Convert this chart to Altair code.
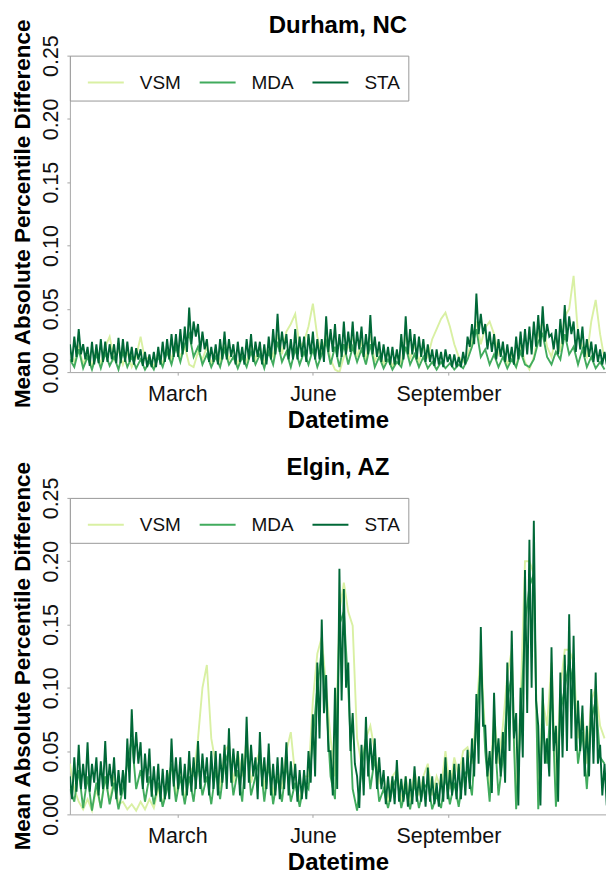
import altair as alt
import pandas as pd

# ---- data ----
# VSM / MDA: one sample every 3 days; STA: one sample every 1.5 days
series_names = ["VSM", "MDA", "STA"]
series_colors = ["#d9f0a3", "#41ab5d", "#006837"]
series_step_hours = [72, 72, 36]
panel_titles = ["Durham, NC", "Elgin, AZ"]
tick_dates = ["2019-03-15", "2019-06-15", "2019-09-15"]
tick_labels = ["March", "June", "September"]
y_ticks = [0.0, 0.05, 0.10, 0.15, 0.20, 0.25]

durham_vsm = [
    0.015, 0.008, 0.020, 0.006, 0.016, 0.004, 0.018, 0.006, 0.020, 0.028,
    0.010, 0.018, 0.006, 0.016, 0.004, 0.012, 0.028, 0.010, 0.012, 0.004,
    0.016, 0.006, 0.020, 0.010, 0.024, 0.012, 0.020, 0.006, 0.004, 0.016,
    0.010, 0.020, 0.006, 0.018, 0.008, 0.024, 0.010, 0.018, 0.006, 0.016,
    0.008, 0.022, 0.010, 0.020, 0.006, 0.022, 0.012, 0.030, 0.014, 0.032,
    0.038, 0.046, 0.020, 0.024, 0.036, 0.054, 0.028, 0.014, 0.030, 0.010,
    0.002, 0.000, 0.012, 0.020, 0.028, 0.012, 0.024, 0.010, 0.030, 0.008,
    0.018, 0.006, 0.016, 0.004, 0.014, 0.006, 0.030, 0.010, 0.022, 0.008,
    0.020, 0.012, 0.026, 0.034, 0.042, 0.047, 0.036, 0.022, 0.012, 0.008,
    0.014, 0.024, 0.040, 0.022, 0.035, 0.040, 0.030, 0.014, 0.020, 0.006,
    0.014, 0.004, 0.022, 0.008, 0.002, 0.012, 0.030, 0.040, 0.020, 0.012,
    0.028, 0.016, 0.044, 0.050, 0.076, 0.030, 0.020, 0.012, 0.040, 0.057,
    0.030, 0.010,
]
durham_mda = [
    0.010, 0.004, 0.018, 0.003, 0.012, 0.002, 0.014, 0.003, 0.015, 0.005,
    0.012, 0.002, 0.016, 0.004, 0.012, 0.003, 0.010, 0.002, 0.008, 0.002,
    0.012, 0.004, 0.016, 0.006, 0.020, 0.008, 0.022, 0.030, 0.012, 0.020,
    0.006, 0.014, 0.004, 0.012, 0.004, 0.018, 0.006, 0.012, 0.003, 0.012,
    0.004, 0.016, 0.006, 0.014, 0.003, 0.016, 0.006, 0.024, 0.008, 0.016,
    0.004, 0.018, 0.006, 0.016, 0.006, 0.018, 0.004, 0.014, 0.024, 0.006,
    0.020, 0.004, 0.022, 0.006, 0.020, 0.008, 0.018, 0.006, 0.022, 0.004,
    0.012, 0.003, 0.010, 0.002, 0.008, 0.004, 0.020, 0.006, 0.014, 0.004,
    0.012, 0.003, 0.008, 0.002, 0.008, 0.003, 0.007, 0.002, 0.006, 0.003,
    0.010, 0.020, 0.034, 0.012, 0.018, 0.006, 0.014, 0.004, 0.012, 0.003,
    0.010, 0.004, 0.016, 0.006, 0.004, 0.010, 0.024, 0.030, 0.012, 0.006,
    0.016, 0.010, 0.030, 0.014, 0.020, 0.006, 0.018, 0.004, 0.012, 0.003,
    0.008, 0.002,
]
durham_sta = [
    0.022, 0.008, 0.028, 0.012, 0.034, 0.014, 0.022, 0.010, 0.020, 0.005,
    0.024, 0.006, 0.022, 0.007, 0.026, 0.008, 0.024, 0.008, 0.022, 0.010,
    0.022, 0.007, 0.027, 0.007, 0.026, 0.008, 0.024, 0.008, 0.020, 0.006,
    0.019, 0.010, 0.018, 0.005, 0.016, 0.004, 0.014, 0.004, 0.016, 0.004,
    0.020, 0.006, 0.024, 0.008, 0.026, 0.010, 0.030, 0.012, 0.030, 0.012,
    0.034, 0.014, 0.036, 0.016, 0.051, 0.022, 0.040, 0.028, 0.038, 0.016,
    0.032, 0.018, 0.026, 0.008, 0.020, 0.008, 0.022, 0.006, 0.026, 0.010,
    0.032, 0.010, 0.026, 0.012, 0.022, 0.006, 0.024, 0.008, 0.020, 0.006,
    0.026, 0.010, 0.030, 0.008, 0.024, 0.012, 0.024, 0.006, 0.022, 0.006,
    0.028, 0.010, 0.034, 0.014, 0.046, 0.016, 0.032, 0.018, 0.030, 0.010,
    0.026, 0.010, 0.034, 0.010, 0.028, 0.012, 0.028, 0.008, 0.030, 0.014,
    0.032, 0.010, 0.026, 0.010, 0.026, 0.008, 0.044, 0.016, 0.034, 0.016,
    0.038, 0.012, 0.030, 0.012, 0.040, 0.014, 0.032, 0.016, 0.040, 0.014,
    0.032, 0.018, 0.036, 0.012, 0.030, 0.014, 0.045, 0.014, 0.028, 0.012,
    0.024, 0.008, 0.022, 0.008, 0.020, 0.006, 0.020, 0.006, 0.018, 0.006,
    0.030, 0.010, 0.044, 0.014, 0.034, 0.014, 0.030, 0.010, 0.028, 0.012,
    0.026, 0.008, 0.022, 0.008, 0.018, 0.005, 0.018, 0.006, 0.016, 0.004,
    0.018, 0.008, 0.014, 0.004, 0.014, 0.004, 0.012, 0.004, 0.016, 0.006,
    0.028, 0.020, 0.038, 0.022, 0.062, 0.030, 0.046, 0.030, 0.038, 0.018,
    0.032, 0.016, 0.030, 0.010, 0.026, 0.012, 0.024, 0.008, 0.022, 0.008,
    0.020, 0.006, 0.028, 0.010, 0.032, 0.012, 0.034, 0.014, 0.036, 0.014,
    0.040, 0.020, 0.045, 0.020, 0.052, 0.024, 0.038, 0.028, 0.030, 0.018,
    0.034, 0.014, 0.042, 0.022, 0.053, 0.024, 0.044, 0.030, 0.040, 0.016,
    0.034, 0.018, 0.036, 0.012, 0.026, 0.012, 0.024, 0.008, 0.022, 0.008,
    0.018, 0.006, 0.016, 0.006,
]

elgin_vsm = [
    0.040, 0.020, 0.010, 0.004, 0.012, 0.003, 0.020, 0.006, 0.030, 0.010,
    0.030, 0.008, 0.010, 0.004, 0.008, 0.003, 0.010, 0.004, 0.012, 0.005,
    0.020, 0.008, 0.025, 0.040, 0.015, 0.035, 0.010, 0.040, 0.030, 0.060,
    0.100, 0.118, 0.060, 0.040, 0.020, 0.050, 0.055, 0.025, 0.050, 0.030,
    0.060, 0.025, 0.040, 0.050, 0.020, 0.045, 0.015, 0.035, 0.020, 0.050,
    0.065, 0.030, 0.010, 0.030, 0.030, 0.090, 0.127, 0.140, 0.100, 0.060,
    0.030, 0.160, 0.183, 0.160, 0.149, 0.060, 0.040, 0.060, 0.070, 0.050,
    0.025, 0.030, 0.010, 0.030, 0.035, 0.010, 0.030, 0.010, 0.035, 0.015,
    0.030, 0.040, 0.015, 0.030, 0.020, 0.050, 0.020, 0.045, 0.030, 0.050,
    0.053, 0.040, 0.080, 0.130, 0.060, 0.020, 0.080, 0.040, 0.070, 0.110,
    0.130, 0.010, 0.090, 0.200, 0.200, 0.190, 0.010, 0.090, 0.070, 0.120,
    0.020, 0.100, 0.130, 0.130, 0.120, 0.060, 0.080, 0.040, 0.090, 0.100,
    0.070, 0.060,
]
elgin_mda = [
    0.020, 0.010, 0.035, 0.005, 0.030, 0.003, 0.025, 0.005, 0.030, 0.008,
    0.025, 0.004, 0.020, 0.040, 0.060, 0.020, 0.035, 0.010, 0.030, 0.008,
    0.025, 0.006, 0.020, 0.040, 0.010, 0.030, 0.008, 0.030, 0.010, 0.040,
    0.015, 0.030, 0.008, 0.035, 0.012, 0.040, 0.050, 0.015, 0.035, 0.010,
    0.055, 0.015, 0.030, 0.045, 0.010, 0.040, 0.008, 0.030, 0.010, 0.040,
    0.010, 0.025, 0.006, 0.025, 0.020, 0.060, 0.100, 0.130, 0.090, 0.030,
    0.012, 0.150, 0.160, 0.100, 0.020, 0.003, 0.035, 0.060, 0.020, 0.045,
    0.010, 0.020, 0.005, 0.020, 0.030, 0.005, 0.020, 0.004, 0.025, 0.005,
    0.020, 0.025, 0.004, 0.015, 0.005, 0.030, 0.008, 0.025, 0.006, 0.030,
    0.035, 0.015, 0.070, 0.120, 0.050, 0.010, 0.070, 0.015, 0.045, 0.090,
    0.110, 0.004, 0.070, 0.150, 0.180, 0.190, 0.004, 0.070, 0.040, 0.100,
    0.006, 0.080, 0.100, 0.120, 0.100, 0.040, 0.065, 0.020, 0.075, 0.090,
    0.045, 0.040,
]
elgin_sta = [
    0.030, 0.012, 0.045, 0.018, 0.055, 0.020, 0.040, 0.020, 0.057, 0.018,
    0.040, 0.025, 0.045, 0.015, 0.042, 0.020, 0.058, 0.020, 0.040, 0.022,
    0.045, 0.012, 0.035, 0.015, 0.035, 0.012, 0.060, 0.025, 0.083, 0.040,
    0.065, 0.040, 0.057, 0.020, 0.048, 0.025, 0.052, 0.014, 0.038, 0.015,
    0.040, 0.010, 0.036, 0.012, 0.035, 0.012, 0.060, 0.022, 0.045, 0.020,
    0.045, 0.015, 0.040, 0.015, 0.050, 0.018, 0.045, 0.020, 0.058, 0.020,
    0.048, 0.025, 0.045, 0.015, 0.050, 0.020, 0.050, 0.015, 0.048, 0.025,
    0.055, 0.020, 0.068, 0.025, 0.052, 0.030, 0.050, 0.015, 0.048, 0.020,
    0.077, 0.025, 0.055, 0.030, 0.045, 0.012, 0.065, 0.022, 0.045, 0.020,
    0.056, 0.015, 0.040, 0.015, 0.045, 0.012, 0.045, 0.020, 0.057, 0.015,
    0.042, 0.020, 0.040, 0.010, 0.035, 0.012, 0.035, 0.012, 0.050, 0.025,
    0.079, 0.030, 0.120, 0.060, 0.154, 0.080, 0.110, 0.050, 0.050, 0.015,
    0.100, 0.020, 0.194, 0.090, 0.178, 0.100, 0.120, 0.050, 0.080, 0.040,
    0.030, 0.005, 0.055, 0.015, 0.077, 0.030, 0.060, 0.035, 0.060, 0.020,
    0.045, 0.020, 0.035, 0.008, 0.030, 0.010, 0.030, 0.008, 0.043, 0.010,
    0.028, 0.010, 0.030, 0.006, 0.028, 0.008, 0.038, 0.010, 0.030, 0.010,
    0.030, 0.006, 0.037, 0.010, 0.030, 0.008, 0.025, 0.006, 0.032, 0.010,
    0.045, 0.012, 0.035, 0.015, 0.040, 0.012, 0.040, 0.012, 0.045, 0.015,
    0.051, 0.020, 0.060, 0.030, 0.095, 0.040, 0.148, 0.070, 0.070, 0.030,
    0.050, 0.017, 0.096, 0.040, 0.060, 0.030, 0.065, 0.025, 0.120, 0.050,
    0.145, 0.060, 0.080, 0.007, 0.100, 0.045, 0.193, 0.080, 0.217, 0.100,
    0.232, 0.090, 0.070, 0.007, 0.100, 0.040, 0.060, 0.030, 0.132, 0.050,
    0.070, 0.010, 0.112, 0.045, 0.126, 0.050, 0.158, 0.060, 0.141, 0.050,
    0.090, 0.050, 0.086, 0.030, 0.070, 0.030, 0.099, 0.040, 0.112, 0.040,
    0.055, 0.015, 0.040, 0.007,
]

panel_series = [
    [durham_vsm, durham_mda, durham_sta],
    [elgin_vsm, elgin_mda, elgin_sta],
]

FONT = "Liberation Sans"
AXIS_GRAY = "#a6a6a6"
START = pd.Timestamp("2019-01-01")


def make_panel(title, values_list):
    frames = []
    for name, step, vals in zip(series_names, series_step_hours, values_list):
        when = pd.date_range(start=START, periods=len(vals), freq=f"{step}h")
        frames.append(pd.DataFrame({"Datetime": when, "value": vals, "series": name}))
    df = pd.concat(frames, ignore_index=True)

    x_enc = alt.X(
        "Datetime:T",
        scale=alt.Scale(domain=[alt.DateTime(year=2019, month=1, date=1),
                                alt.DateTime(year=2019, month=12, date=31)]),
        axis=alt.Axis(
            title="Datetime",
            values=[alt.DateTime(year=2019, month=int(d[5:7]), date=int(d[8:10])) for d in tick_dates],
            format="%B",
            grid=False,
            tickSize=3,
            labelPadding=8,
            labelFontSize=21.5,
            labelFont=FONT,
            labelColor="#111111",
            titleFontSize=24,
            titleFont=FONT,
            titleFontWeight="bold",
            titleColor="#000000",
            titleY=55,
            titleBaseline="alphabetic",
            domainColor=AXIS_GRAY,
            tickColor=AXIS_GRAY,
            labelFlush=False,
        ),
    )
    y_enc = alt.Y(
        "value:Q",
        scale=alt.Scale(domain=[0, 0.25], nice=False, zero=True),
        axis=alt.Axis(
            title="Mean Absolute Percentile Difference",
            values=y_ticks,
            format=".2f",
            grid=False,
            tickSize=3,
            labelAngle=270,
            labelAlign="center",
            labelBaseline="alphabetic",
            labelPadding=9,
            labelFontSize=21.5,
            labelFont=FONT,
            labelColor="#111111",
            labelFlush=False,
            titleFontSize=22.5,
            titleFont=FONT,
            titleFontWeight="bold",
            titleColor="#000000",
            titleAngle=270,
            titleAlign="center",
            titleBaseline="middle",
            titleX=-47,
            titleY=158,
            domainColor=AXIS_GRAY,
            tickColor=AXIS_GRAY,
        ),
    )
    color_enc = alt.Color(
        "series:N",
        scale=alt.Scale(domain=series_names, range=series_colors),
        legend=alt.Legend(
            title=None,
            orient="none",
            legendX=0,
            legendY=0,
            direction="horizontal",
            symbolType="stroke",
            symbolSize=1296,
            symbolStrokeWidth=2,
            symbolOffset=9,
            labelFontSize=19,
            labelFont=FONT,
            labelColor="#111111",
            labelOffset=15,
            columnPadding=8,
            padding=8,
            strokeColor="#999999",
            fillColor="white",
            cornerRadius=0,
        ),
    )
    layers = []
    for name in series_names:
        layers.append(
            alt.Chart(df)
            .transform_filter(alt.datum.series == name)
            .mark_line(strokeWidth=1.9, clip=True)
            .encode(x=x_enc, y=y_enc, color=color_enc)
        )
    return alt.layer(*layers).properties(
        width=537,
        height=317,
        title=alt.TitleParams(text=title, fontSize=24, font=FONT, fontWeight="bold",
                              color="#000000", anchor="middle", frame="group", dy=23),
    )


top = make_panel(panel_titles[0], panel_series[0])
bottom = make_panel(panel_titles[1], panel_series[1])

chart = (
    alt.vconcat(top, bottom, spacing=23)
    .resolve_legend(color="independent")
    .properties(padding={"left": 11, "top": 12, "right": 0, "bottom": 0}, background="white")
    .configure_view(stroke=None)
)

chart.save("out.html", embed_options={"renderer": "svg", "actions": False})
